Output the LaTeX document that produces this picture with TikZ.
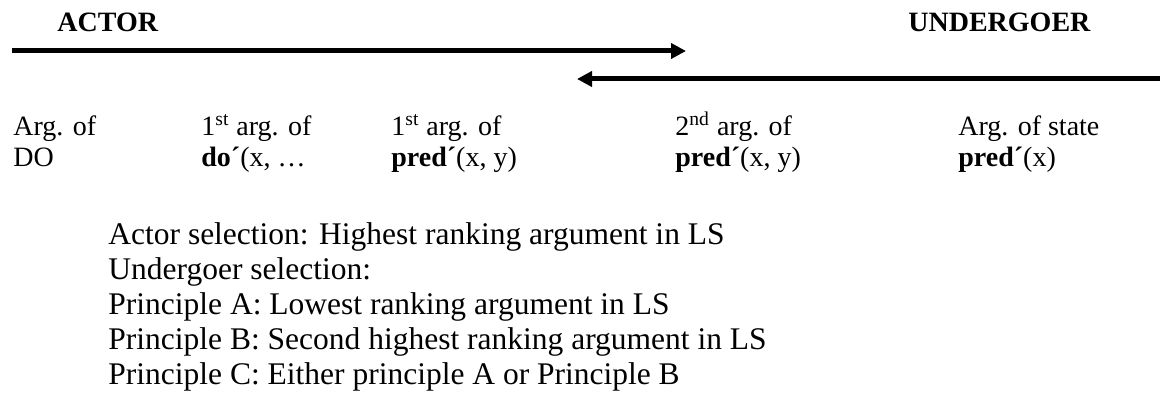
\documentclass[tikz,border=0pt]{standalone}
\usepackage{fontspec}
\setmainfont{Liberation Serif}
\usetikzlibrary{arrows.meta}
\begin{document}
\begin{tikzpicture}[x=0.5pt,y=-0.5pt,
  txt/.style={inner sep=0pt,anchor=base west,font=\fontsize{14}{16}\selectfont},
  low/.style={inner sep=0pt,anchor=base west,font=\fontsize{15.75}{18}\selectfont},
  head/.style={inner sep=0pt,anchor=base west,font=\fontsize{14}{16}\selectfont\bfseries},
  bigarrow/.style={line width=2.5pt,-{Triangle[length=7.5pt,width=7.5pt]}}]
\useasboundingbox (0,0) rectangle (1160,394);
\node[head] (actor) at (57,32) {ACTOR};
\node[head] (under) at (908,32) {UNDERGOER};
\coordinate (a1s) at (12,51);
\coordinate (a1e) at (686,51);
\coordinate (a2s) at (1160,79);
\coordinate (a2e) at (577,79);
\draw[bigarrow] (a1s) -- (a1e);
\draw[bigarrow] (a2s) -- (a2e);
\node[txt] (c1a) at (13,136) {Arg. of};
\node[txt] (c1b) at (13,167) {DO};
\node[txt] (c2a) at (201,136) {1\textsuperscript{st} arg. of};
\node[txt] (c2b) at (201,167) {\textbf{do´}(x, …};
\node[txt] (c3a) at (391,136) {1\textsuperscript{st} arg. of};
\node[txt] (c3b) at (391,167) {\textbf{pred´}(x, y)};
\node[txt] (c4a) at (675,136) {2\textsuperscript{nd} arg. of};
\node[txt] (c4b) at (675,167) {\textbf{pred´}(x, y)};
\node[txt] (c5a) at (958,136) {Arg. of state};
\node[txt] (c5b) at (958,167) {\textbf{pred´}(x)};
\node[low] (l1) at (108,245) {Actor selection: Highest ranking argument in LS};
\node[low] (l2) at (108,280) {Undergoer selection:};
\node[low] (l3) at (108,315) {Principle A: Lowest ranking argument in LS};
\node[low] (l4) at (108,350) {Principle B: Second highest ranking argument in LS};
\node[low] (l5) at (108,385) {Principle C: Either principle A or Principle B};
\end{tikzpicture}
\end{document}
